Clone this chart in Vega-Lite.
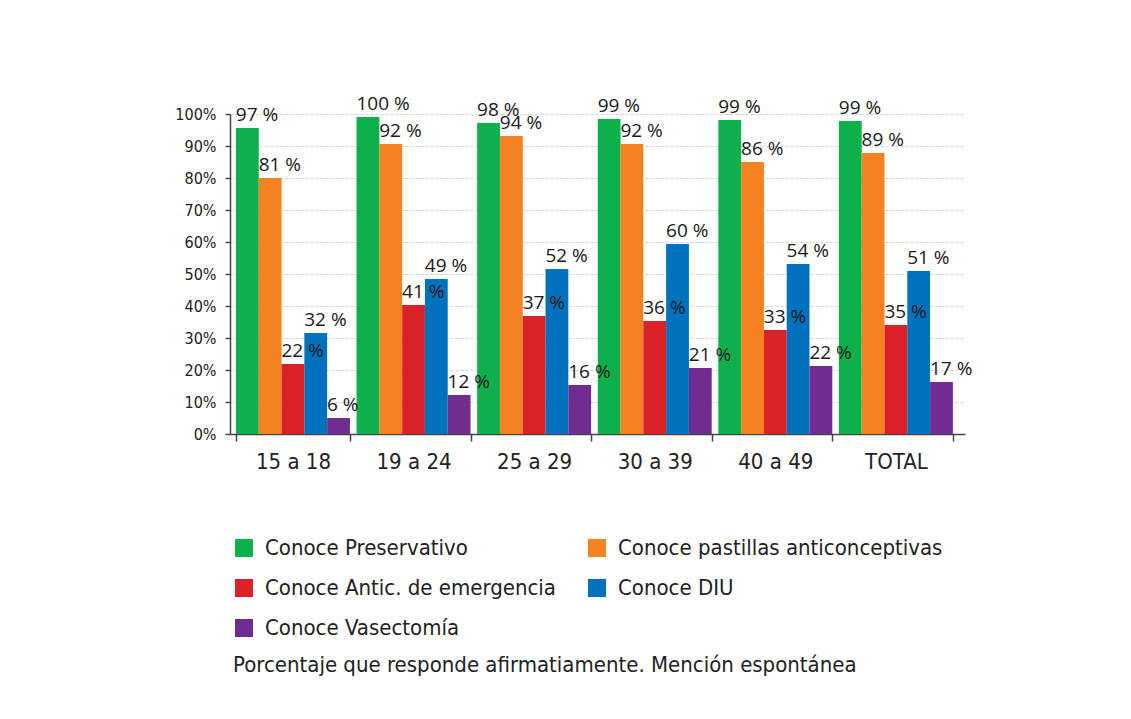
{
  "$schema": "https://vega.github.io/schema/vega-lite/v6.json",
  "width": 735,
  "height": 320,
  "autosize": {"type": "none"},
  "padding": {"left": 230, "top": 114, "right": 166, "bottom": 285},
  "background": "white",
  "data": {
    "values": [
      {"grupo": "15 a 18", "serie": "Conoce Preservativo", "valor": 0.956, "etiqueta": "97 %"},
      {"grupo": "15 a 18", "serie": "Conoce pastillas anticonceptivas", "valor": 0.80, "etiqueta": "81 %"},
      {"grupo": "15 a 18", "serie": "Conoce Antic. de emergencia", "valor": 0.219, "etiqueta": "22 %"},
      {"grupo": "15 a 18", "serie": "Conoce DIU", "valor": 0.316, "etiqueta": "32 %"},
      {"grupo": "15 a 18", "serie": "Conoce Vasectomía", "valor": 0.05, "etiqueta": "6 %"},
      {"grupo": "19 a 24", "serie": "Conoce Preservativo", "valor": 0.991, "etiqueta": "100 %"},
      {"grupo": "19 a 24", "serie": "Conoce pastillas anticonceptivas", "valor": 0.906, "etiqueta": "92 %"},
      {"grupo": "19 a 24", "serie": "Conoce Antic. de emergencia", "valor": 0.403, "etiqueta": "41 %"},
      {"grupo": "19 a 24", "serie": "Conoce DIU", "valor": 0.484, "etiqueta": "49 %"},
      {"grupo": "19 a 24", "serie": "Conoce Vasectomía", "valor": 0.122, "etiqueta": "12 %"},
      {"grupo": "25 a 29", "serie": "Conoce Preservativo", "valor": 0.972, "etiqueta": "98 %"},
      {"grupo": "25 a 29", "serie": "Conoce pastillas anticonceptivas", "valor": 0.931, "etiqueta": "94 %"},
      {"grupo": "25 a 29", "serie": "Conoce Antic. de emergencia", "valor": 0.369, "etiqueta": "37 %"},
      {"grupo": "25 a 29", "serie": "Conoce DIU", "valor": 0.516, "etiqueta": "52 %"},
      {"grupo": "25 a 29", "serie": "Conoce Vasectomía", "valor": 0.153, "etiqueta": "16 %"},
      {"grupo": "30 a 39", "serie": "Conoce Preservativo", "valor": 0.984, "etiqueta": "99 %"},
      {"grupo": "30 a 39", "serie": "Conoce pastillas anticonceptivas", "valor": 0.906, "etiqueta": "92 %"},
      {"grupo": "30 a 39", "serie": "Conoce Antic. de emergencia", "valor": 0.353, "etiqueta": "36 %"},
      {"grupo": "30 a 39", "serie": "Conoce DIU", "valor": 0.594, "etiqueta": "60 %"},
      {"grupo": "30 a 39", "serie": "Conoce Vasectomía", "valor": 0.206, "etiqueta": "21 %"},
      {"grupo": "40 a 49", "serie": "Conoce Preservativo", "valor": 0.981, "etiqueta": "99 %"},
      {"grupo": "40 a 49", "serie": "Conoce pastillas anticonceptivas", "valor": 0.85, "etiqueta": "86 %"},
      {"grupo": "40 a 49", "serie": "Conoce Antic. de emergencia", "valor": 0.325, "etiqueta": "33 %"},
      {"grupo": "40 a 49", "serie": "Conoce DIU", "valor": 0.531, "etiqueta": "54 %"},
      {"grupo": "40 a 49", "serie": "Conoce Vasectomía", "valor": 0.2125, "etiqueta": "22 %"},
      {"grupo": "TOTAL", "serie": "Conoce Preservativo", "valor": 0.978, "etiqueta": "99 %"},
      {"grupo": "TOTAL", "serie": "Conoce pastillas anticonceptivas", "valor": 0.878, "etiqueta": "89 %"},
      {"grupo": "TOTAL", "serie": "Conoce Antic. de emergencia", "valor": 0.341, "etiqueta": "35 %"},
      {"grupo": "TOTAL", "serie": "Conoce DIU", "valor": 0.509, "etiqueta": "51 %"},
      {"grupo": "TOTAL", "serie": "Conoce Vasectomía", "valor": 0.1625, "etiqueta": "17 %"}
    ]
  },
  "encoding": {
    "x": {
      "field": "grupo",
      "type": "nominal",
      "sort": ["15 a 18", "19 a 24", "25 a 29", "30 a 39", "40 a 49", "TOTAL"],
      "scale": {"paddingInner": 0.055, "paddingOuter": 0.075, "align": 0.33},
      "axis": {
        "title": null,
        "labelAngle": 0,
        "labelFontSize": 22,
        "labelPadding": 10,
        "tickSize": 7,
        "tickBand": "extent",
        "grid": false
      }
    },
    "xOffset": {
      "field": "serie",
      "type": "nominal",
      "sort": ["Conoce Preservativo", "Conoce pastillas anticonceptivas", "Conoce Antic. de emergencia", "Conoce DIU", "Conoce Vasectomía"],
      "scale": {"paddingInner": 0, "paddingOuter": 0}
    },
    "y": {
      "field": "valor",
      "type": "quantitative",
      "scale": {"domain": [0, 1], "nice": false},
      "axis": {
        "title": null,
        "format": ".0%",
        "values": [0, 0.1, 0.2, 0.3, 0.4, 0.5, 0.6, 0.7, 0.8, 0.9, 1],
        "labelFontSize": 16,
        "labelPadding": 9,
        "tickSize": 5,
        "grid": true,
        "gridColor": "#d2d2d2",
        "gridDash": [3, 2],
        "gridWidth": 1
      }
    }
  },
  "layer": [
    {
      "mark": {"type": "bar"},
      "encoding": {
        "color": {
          "field": "serie",
          "type": "nominal",
          "sort": ["Conoce Preservativo", "Conoce pastillas anticonceptivas", "Conoce Antic. de emergencia", "Conoce DIU", "Conoce Vasectomía"],
          "scale": {
            "domain": ["Conoce Preservativo", "Conoce pastillas anticonceptivas", "Conoce Antic. de emergencia", "Conoce DIU", "Conoce Vasectomía"],
            "range": ["#0db04b", "#f58220", "#da2128", "#0071bc", "#6f2c91"]
          },
          "legend": {
            "orient": "none",
            "legendX": 3,
            "legendY": 423,
            "columns": 2,
            "direction": "horizontal",
            "symbolType": "square",
            "symbolSize": 324,
            "symbolStrokeWidth": 0,
            "labelFontSize": 22,
            "labelOffset": 10,
            "labelLimit": 500,
            "rowPadding": 18,
            "columnPadding": 30,
            "title": "Porcentaje que responde afirmatiamente. Mención espontánea",
            "titleOrient": "bottom",
            "titleAnchor": "start",
            "titleFontSize": 22,
            "titleFontWeight": "normal",
            "titleLimit": 1000,
            "titlePadding": 16
          }
        }
      }
    },
    {
      "mark": {
        "type": "text",
        "align": "left",
        "baseline": "alphabetic",
        "dx": -11.5,
        "dy": -7,
        "font": "Open Sans",
        "fontSize": 19,
        "color": "#1a1a1a"
      },
      "encoding": {"text": {"field": "etiqueta"}}
    }
  ],
  "config": {
    "view": {"stroke": null},
    "font": "DejaVu Sans Condensed, Roboto, sans-serif",
    "axis": {
      "labelFont": "DejaVu Sans Condensed, Roboto, sans-serif",
      "labelColor": "#222222",
      "domainColor": "#444444",
      "domainWidth": 1.5,
      "tickColor": "#444444",
      "tickWidth": 1.5
    },
    "legend": {
      "labelFont": "DejaVu Sans Condensed, Roboto, sans-serif",
      "titleFont": "DejaVu Sans Condensed, Roboto, sans-serif",
      "labelColor": "#222222",
      "titleColor": "#222222"
    }
  }
}
